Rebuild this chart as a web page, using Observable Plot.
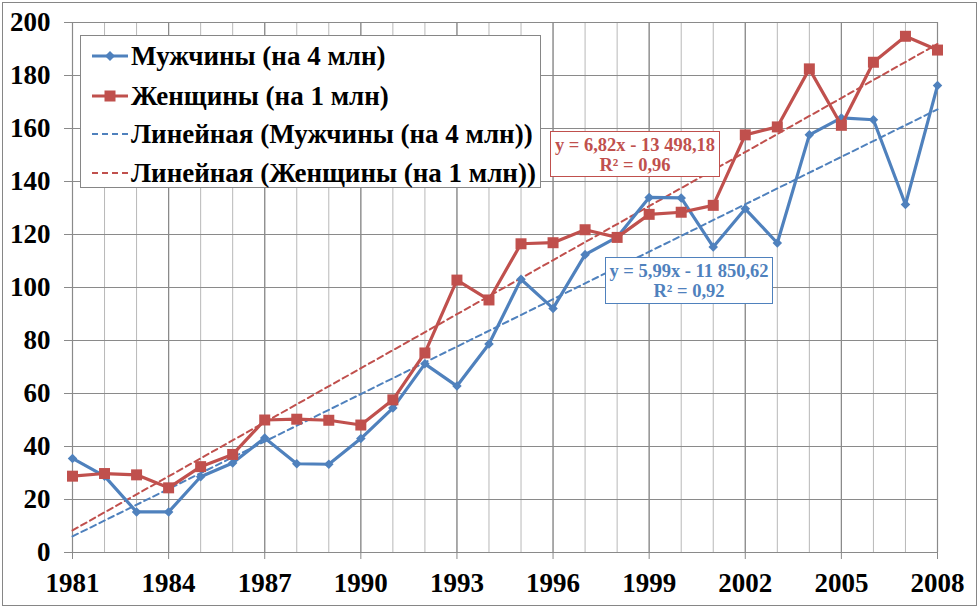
<!DOCTYPE html>
<html><head><meta charset="utf-8">
<script src="https://cdn.jsdelivr.net/npm/d3@7"></script>
<script src="https://cdn.jsdelivr.net/npm/@observablehq/plot@0.6"></script>
<style>
body{margin:0;background:#fff;}
#wrap{position:relative;width:980px;height:608px;font-family:"Liberation Serif","Tinos","DejaVu Serif",serif;font-weight:bold;}
#wrap > svg{position:absolute;left:0;top:0;}
#frame{position:absolute;left:2px;top:2px;width:975px;height:604px;border:1.5px solid #868686;box-sizing:border-box;pointer-events:none}
#legend{position:absolute;left:80px;top:35px;width:461px;height:153px;border:1.5px solid #868686;background:#fff;box-sizing:border-box}
.row{position:absolute;left:10px;height:30px;display:flex;align-items:center;font-size:27px;color:#000;white-space:nowrap}
.row svg{position:static;margin-right:2px;flex:none}
.eq{position:absolute;background:#fff;box-sizing:border-box;text-align:center;font-size:18.5px;line-height:20px;padding-top:3px;white-space:nowrap}
</style>
</head><body>
<div id="wrap"></div>
<script>
const years = [1981,1982,1983,1984,1985,1986,1987,1988,1989,1990,1991,1992,1993,1994,1995,1996,1997,1998,1999,2000,2001,2002,2003,2004,2005,2006,2007,2008];
const men = [35.5,28.8,15.3,15.3,28.6,33.8,43.2,33.5,33.3,43.0,54.5,71.2,62.8,78.7,103.1,92.1,112.4,119.0,134.0,133.8,115.3,129.7,116.8,157.6,164.0,163.3,131.3,176.2];
const women = [28.8,29.8,29.3,24.4,32.4,37.0,50.0,50.3,49.9,48.1,57.6,75.3,102.8,95.3,116.5,116.9,121.8,118.9,127.6,128.4,131.0,157.6,160.6,182.5,161.2,185.0,194.8,189.6];
const xTicks = [1981,1984,1987,1990,1993,1996,1999,2002,2005,2008];
const yTicks = [0,20,40,60,80,100,120,140,160,180,200];
const seriesNames = ["Мужчины (на 4 млн)","Женщины (на 1 млн)","Линейная (Мужчины (на 4 млн))","Линейная (Женщины (на 1 млн))"];
const eqMen = ["y = 5,99x - 11 850,62","R² = 0,92"];
const eqWomen = ["y = 6,82x - 13 498,18","R² = 0,96"];

const blue = "#4F81BD", red = "#C0504D";
const menData = years.map((year,i)=>({year, value: men[i]}));
const womenData = years.map((year,i)=>({year, value: women[i]}));

const font = '"Liberation Serif","Tinos","DejaVu Serif",serif';
const chart = Plot.plot({
  width:980, height:608,
  marginLeft:72, marginRight:43, marginTop:22, marginBottom:56,
  style:{fontFamily:font, fontWeight:"bold", fontSize:"27px", color:"#000", background:"transparent", overflow:"visible"},
  x:{domain:[1981,2008], label:null},
  y:{domain:[0,200], label:null},
  marks:[
    Plot.gridX(years,{stroke:"#b8b8b8", strokeOpacity:1, strokeWidth:1}),
    Plot.gridX(xTicks,{stroke:"#8a8a8a", strokeOpacity:1, strokeWidth:1.2}),
    Plot.gridY(yTicks,{stroke:"#8a8a8a", strokeOpacity:1, strokeWidth:1.2}),
    Plot.axisX(xTicks,{tickSize:7, tickPadding:13, stroke:"#8a8a8a", fill:"#000", tickFormat:d=>String(d), fontSize:27, fontWeight:"bold", fontFamily:font, label:null}),
    Plot.axisY(yTicks,{tickSize:8, tickPadding:14, stroke:"#8a8a8a", fill:"#000", fontSize:27, fontWeight:"bold", fontFamily:font, label:null}),
    Plot.linearRegressionY(menData,{x:"year", y:"value", ci:0, stroke:blue, strokeWidth:2, strokeDasharray:"6,4"}),
    Plot.linearRegressionY(womenData,{x:"year", y:"value", ci:0, stroke:red, strokeWidth:2, strokeDasharray:"6,4"}),
    Plot.line(menData,{x:"year", y:"value", stroke:blue, strokeWidth:3.2}),
    Plot.dot(menData,{x:"year", y:"value", symbol:"diamond2", r:4.3, fill:blue, stroke:"none"}),
    Plot.line(womenData,{x:"year", y:"value", stroke:red, strokeWidth:3.2}),
    Plot.dot(womenData,{x:"year", y:"value", symbol:"square", r:6.2, fill:red, stroke:"none"})
  ]
});
const wrap = document.getElementById("wrap");
wrap.appendChild(chart);

// legend
const legend = document.createElement("div");
legend.id = "legend";
const rowTops = [5, 45, 83, 122];
const styles = [
  {color:blue, dash:null, marker:"diamond"},
  {color:red, dash:null, marker:"square"},
  {color:blue, dash:"6,4", marker:null},
  {color:red, dash:"6,4", marker:null}
];
seriesNames.forEach((name,i)=>{
  const row = document.createElement("div");
  row.className = "row";
  row.style.top = rowTops[i] + "px";
  const st = styles[i];
  let m = "";
  if (st.marker === "diamond") m = `<path d="M19,10 L24,15 L19,20 L14,15 Z" fill="${st.color}"/>`;
  if (st.marker === "square") m = `<rect x="13.5" y="9.5" width="11" height="11" fill="${st.color}"/>`;
  row.innerHTML = `<svg width="38" height="30"><line x1="1" x2="37" y1="15" y2="15" stroke="${st.color}" stroke-width="${st.dash?2:3.2}" ${st.dash?`stroke-dasharray="${st.dash}"`:""}/>${m}</svg><span>${name}</span>`;
  legend.appendChild(row);
});
wrap.appendChild(legend);

function eqBox(lines, color, left, top, w, h){
  const d = document.createElement("div");
  d.className = "eq";
  Object.assign(d.style,{left:left+"px", top:top+"px", width:w+"px", height:h+"px", border:`1.5px solid ${color}`, color});
  d.innerHTML = lines.join("<br>");
  wrap.appendChild(d);
}
eqBox(eqWomen, red, 550, 131, 170, 46);
eqBox(eqMen, blue, 605, 257, 168, 47);

const frame = document.createElement("div");
frame.id = "frame";
wrap.appendChild(frame);
</script>
</body></html>
